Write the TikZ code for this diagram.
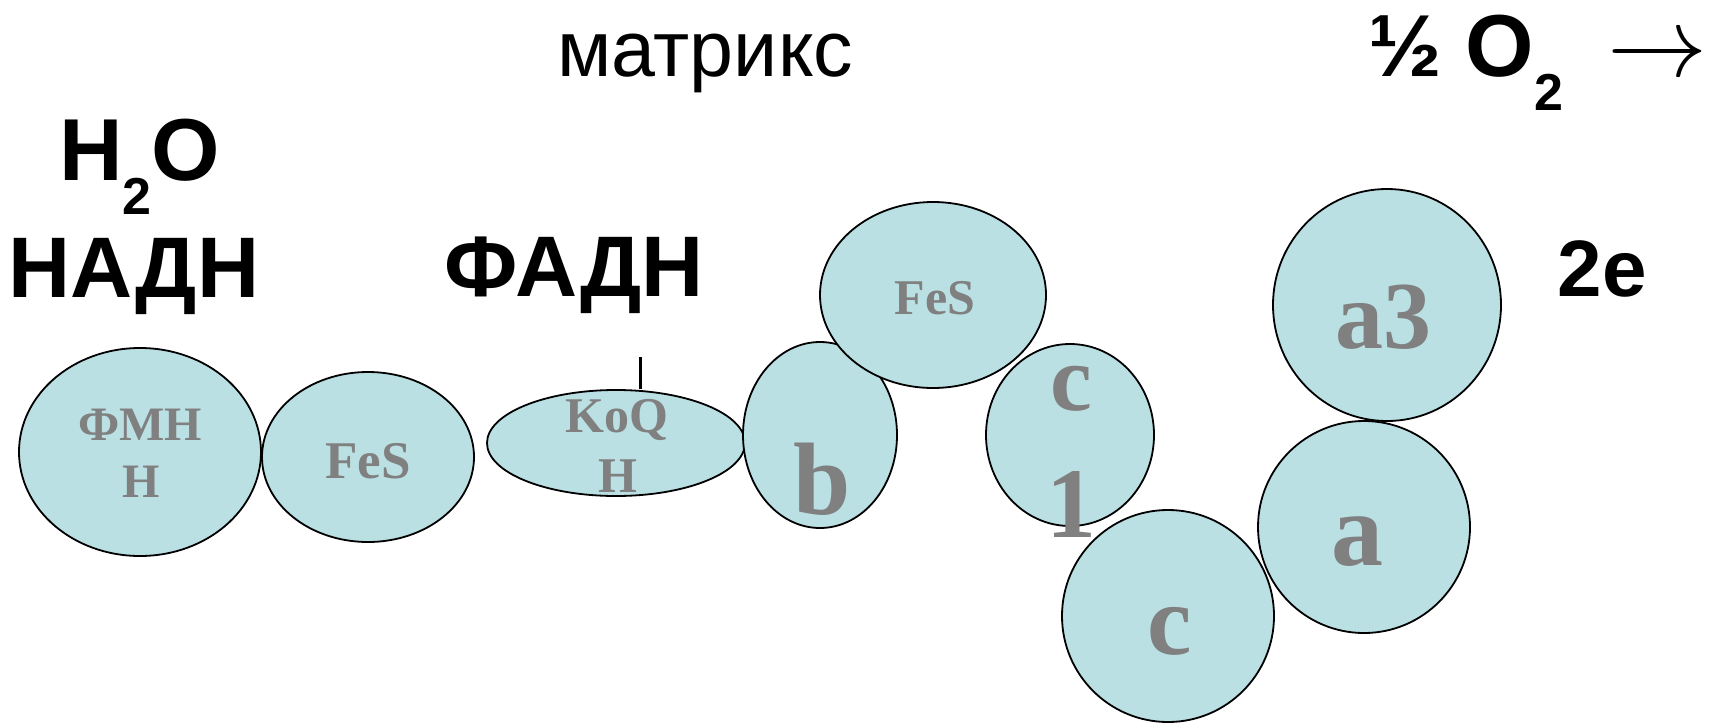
\documentclass[tikz,border=0pt]{standalone}
\usepackage{fontspec}
\setmainfont{Liberation Serif}
\setsansfont{Liberation Sans}
\usepackage{graphicx}
\usepackage{tikz}
\usetikzlibrary{shapes.geometric, positioning}
\definecolor{blobFill}{HTML}{BAE0E3}
\definecolor{blobBorder}{HTML}{000000}
\definecolor{labelGray}{HTML}{808080}
\newcommand{\fsz}[1]{\fontsize{#1}{#1}\selectfont}
\newcommand{\subtwo}{\raisebox{-34pt}{\fsz{52}2}}

\begin{document}
\begin{tikzpicture}[
  x=1pt, y=-1pt,
  blob/.style n args={2}{ellipse, draw=blobBorder, fill=blobFill, line width=1.8pt, inner sep=0pt, minimum width=#1, minimum height=#2},
  glab/.style={text=labelGray, font=\rmfamily\bfseries\fsz{#1}, inner sep=0pt, anchor=base},
  blab/.style={text=black, font=\sffamily\bfseries\fsz{#1}, inner sep=0pt, anchor=base},
  stem/.style={line width=3pt}
]
  \useasboundingbox (0,0) rectangle (1715,723);

  % Carriers
  \node (fmn) [blob={242pt}{208pt}] at (140,452) {};
  \node (fesA) [blob={212pt}{170pt}] at (368,457) {};
  \node (koq) [blob={258pt}{106pt}] at (616,443) {};
  \node (cytB) [blob={154pt}{186pt}] at (820,435) {};
  \node (fesB) [blob={226pt}{186pt}] at (933,295) {};
  \node (cytCa) [blob={168pt}{182pt}] at (1070,435) {};
  \node (cytC) [blob={212pt}{212pt}] at (1168,616) {};
  \node (cytA) [blob={212pt}{212pt}] at (1364,527) {};
  \node (cytAa) [blob={228pt}{232pt}] at (1387,305) {};

  % Carrier labels
  \node (fmnTop) [glab=48] at (140,440) {ФМН};
  \node (fmnBot) [glab=48] at (141,497) {Н};
  \node (fesAText) [glab=53] at (368,478) {FeS};
  \node (koqTop) [glab=50] at (617,432) {KoQ};
  \node (koqBot) [glab=50] at (618,492) {H};
  \node (cytBText) [glab=103] at (822,514) {b};
  \node (fesBText) [glab=50] at (935,314) {FeS};
  \node (cytCaTop) [glab=94] at (1071,410) {c};
  \node (cytCaBot) [glab=100] at (1071,537) {1};
  \node (cytCText) [glab=100] at (1170,654) {c};
  \node (cytAText) [glab=104] at (1357,565) {a};
  \node (cytAaText) [glab=96] at (1383,348) {a3};

  % Headings
  \node (matrix) [blab=79, font=\sffamily\mdseries\fsz{79}] at (705,76) {матрикс};
  \node (water) [blab=88, anchor=base west] at (59,180) {H\subtwo O};
  \node (nadh) [blab=86] at (134,297) {НАДН};
  \node (fadh) [blab=86] at (574,296) {ФАДН};
  \node (oxygen) [blab=88, anchor=base west] at (1368,76) {½ O\subtwo};
  \node (toArrow) [anchor=base west, inner sep=0pt] at (1607,76) {\scalebox{10}{$\rightarrow$}};
  \node (electrons) [blab=80] at (1602,296) {2e};

  % Connector
  \coordinate (stemTop) at (640,357);
  \draw [stem] (stemTop) -- (stemTop |- koq.north);
\end{tikzpicture}
\end{document}
